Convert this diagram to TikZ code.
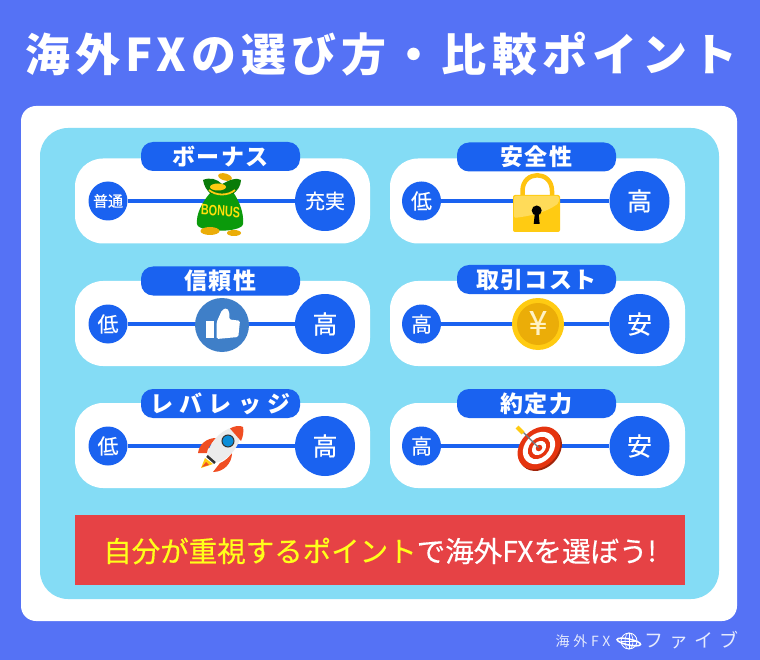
\documentclass[tikz,border=0pt]{standalone}
\usepackage{fontspec}
\setmainfont{Noto Sans CJK JP}
\newfontfamily\latinb{Liberation Sans}
\usetikzlibrary{calc}
\definecolor{pageblue}{HTML}{5572F5}
\definecolor{panelcyan}{HTML}{84DCF5}
\definecolor{darkblue}{HTML}{1A62F0}
\definecolor{bannerred}{HTML}{E64245}
\definecolor{banneryellow}{HTML}{FFFF1A}
\definecolor{goldlight}{HTML}{FFCB12}
\definecolor{golddark}{HTML}{EBAD08}
\definecolor{bagdark}{HTML}{0B9A0B}
\definecolor{thumbblue}{HTML}{3F7FC8}
\definecolor{rocketred}{HTML}{F04E23}
\definecolor{targetred}{HTML}{E5340F}
\newcommand{\SIZE}[1]{\fontsize{#1}{#1}\selectfont}
\newcommand{\MEDIUM}{\addfontfeature{FakeBold=0.35}}
\tikzset{
  card/.style={fill=white, rounded corners=28pt, minimum width=295pt, minimum height=85pt, inner sep=0pt},
  pill/.style={fill=darkblue, text=white, rounded corners=12pt, minimum width=159pt, minimum height=29pt, inner sep=0pt, font=\SIZE{23}\bfseries},
  lowdot/.style={circle, fill=darkblue, text=white, minimum size=39pt, inner sep=0pt, font=\SIZE{21}\MEDIUM},
  highdot/.style={circle, fill=darkblue, text=white, minimum size=60pt, inner sep=0pt, font=\SIZE{25}\MEDIUM},
  barline/.style={draw=darkblue, line width=4pt},
}
\begin{document}
\begin{tikzpicture}[x=1pt, y=-1pt]
  \useasboundingbox (0,0) rectangle (760,660);
  \fill[pageblue] (0,0) rectangle (760,660);
  \fill[white, rounded corners=15pt] (21,106) rectangle (737,621);
  \fill[panelcyan, rounded corners=28pt] (40,128) rectangle (719,599);

  \node[text=white, font=\SIZE{45}\bfseries] (title) at (381.5,54)
  {\addfontfeature{LetterSpace=11.5}海外FXの選び方・比較ポイント};

  %% left column
  \node[card] (cardBonus) at (222.5,201) {};
  \node[pill] (pillBonus) at (220.5,156.5) {\addfontfeature{LetterSpace=5}ボーナス};
  \node[lowdot, font=\SIZE{15}\MEDIUM] (lowBonus) at (108,201) {普通};
  \node[highdot, font=\SIZE{20}\MEDIUM] (highBonus) at (325,201) {充実};
  \draw[barline] (lowBonus) -- (highBonus);

  \node[card] (cardTrust) at (222.5,323.5) {};
  \node[pill] (pillTrust) at (220.5,281) {\addfontfeature{LetterSpace=5}信頼性};
  \node[lowdot] (lowTrust) at (108,324) {低};
  \node[highdot] (highTrust) at (325,324) {高};
  \draw[barline] (lowTrust) -- (highTrust);

  \node[card] (cardLeverage) at (222.5,445.5) {};
  \node[pill] (pillLeverage) at (220.5,403.5) {\addfontfeature{LetterSpace=27}レバレッジ};
  \node[lowdot] (lowLeverage) at (108,446) {低};
  \node[highdot] (highLeverage) at (325,446) {高};
  \draw[barline] (lowLeverage) -- (highLeverage);

  %% right column
  \node[card] (cardSafety) at (537.5,201) {};
  \node[pill] (pillSafety) at (536.5,157) {\addfontfeature{LetterSpace=5}安全性};
  \node[lowdot] (lowSafety) at (421.5,201) {低};
  \node[highdot] (highSafety) at (639.5,201) {高};
  \draw[barline] (lowSafety) -- (highSafety);

  \node[card] (cardCost) at (537.5,323.5) {};
  \node[pill] (pillCost) at (536.5,279.5) {\addfontfeature{LetterSpace=5}取引コスト};
  \node[lowdot] (lowCost) at (421.5,324) {高};
  \node[highdot] (highCost) at (639.5,324) {安};
  \draw[barline] (lowCost) -- (highCost);

  \node[card] (cardFill) at (537.5,445.5) {};
  \node[pill] (pillFill) at (536.5,403.5) {\addfontfeature{LetterSpace=5}約定力};
  \node[lowdot] (lowFill) at (421.5,446) {高};
  \node[highdot] (highFill) at (639.5,446) {安};
  \draw[barline] (lowFill) -- (highFill);

  %% money bag
  \fill[golddark, rotate around={-15:(225,177)}] (225,177) ellipse (7pt and 3.5pt);
  \fill[bagdark] (211,192) .. controls (202,202) and (196,214) .. (197,224)
  .. controls (198,233) and (242,233) .. (243,224)
  .. controls (244,214) and (240,202) .. (233,192) -- cycle;
  \fill[bagdark!80!black] (203,180) .. controls (210,177) and (217,179) .. (222,184)
  .. controls (230,180) and (236,177) .. (241,180)
  .. controls (241,186) and (237,191) .. (233,194) -- (211,194)
  .. controls (207,191) and (204,186) .. (203,180) -- cycle;
  \fill[goldlight] (218,187) ellipse (8pt and 3.5pt);
  \draw[goldlight, line width=1.8pt] (209,190) .. controls (216,196) and (228,196) .. (235,190);
  \node[text=goldlight!60!yellow, inner sep=0pt, font=\latinb\SIZE{15}\bfseries, xscale=.72, rotate=-3] (textBonus) at (220.5,211) {BONUS};
  \fill[golddark] (210,231) ellipse (9.5pt and 4pt);
  \fill[golddark] (234,233) ellipse (7pt and 3pt);

  %% padlock
  \draw[goldlight!90!orange, line width=4.5pt] (522.5,197) -- (522.5,191) .. controls (522.5,170) and (552,170) .. (552,191) -- (552,197);
  \fill[goldlight, rounded corners=2pt] (513,195) rectangle (560,232);
  \fill[goldlight!70!white, rounded corners=2pt] (514,196) -- (559,196) -- (559,203) .. controls (545,213) and (530,216) .. (514,218) -- cycle;
  \fill[black] (536.7,210.5) circle (5pt);
  \fill[black] (535,212) -- (538.4,212) -- (539.7,224) -- (533.7,224) -- cycle;

  %% thumb
  \fill[thumbblue] (222,325) circle (27pt);
  \fill[white] (205.7,320.7) rectangle (214.3,338.3);
  \fill[white, rounded corners=1.5pt] (216.7,322) -- (222,310) -- (226.7,308) -- (229.3,312) -- (229.3,319.5)
  -- (240,320.7) -- (238.3,337) -- (216.7,339) -- cycle;

  %% yen coin
  \fill[goldlight] (538,324) circle (26pt);
  \fill[golddark] (538,324) circle (21pt);
  \node[text=goldlight!25!white, inner sep=0pt, font=\SIZE{33}\MEDIUM] (textYen) at (538,323) {¥};

  %% rocket
  \fill[rocketred] (198,453) .. controls (199,445) and (206,438) .. (216,438) .. controls (211,444) and (207,449) .. (207,453) -- cycle;
  \fill[rocketred] (213,472) .. controls (224,472) and (232,463) .. (232,453) .. controls (228,458) and (225,461) .. (220,463) -- cycle;
  \fill[gray!15] (207,456) .. controls (209,442) and (224,425) .. (241,427) .. controls (243,444) and (228,462) .. (214,463) -- cycle;
  \fill[rocketred] (230,428.5) .. controls (234,426) and (240,425) .. (243,427) .. controls (244,431) and (243,437) .. (241,441) -- cycle;
  \fill[goldlight] (201,468) -- (205,458) -- (213,464) -- cycle;
  \fill[rocketred] (202,467) -- (206,462) -- (209,465) -- cycle;
  \draw[black!80, line width=2.5pt] (207,456) -- (215,463);
  \draw[black!80, fill=cyan!75!blue, line width=1pt] (228,441) circle (6pt);

  %% target
  \begin{scope}[shift={(540.5,449.5)}, rotate=45]
    \fill[targetred!70!black] (0,0) ellipse (24pt and 18.5pt);
  \end{scope}
  \begin{scope}[shift={(539,448)}, rotate=45]
    \fill[targetred] (0,0) ellipse (24pt and 18.5pt);
    \fill[white] (0,0) ellipse (18pt and 14pt);
    \fill[targetred] (0,0) ellipse (12.5pt and 9.5pt);
    \fill[white] (0,0) ellipse (8pt and 6pt);
    \fill[targetred] (0,0) ellipse (3.5pt and 3pt);
  \end{scope}
  \draw[black!60!cyan!50!gray, line width=1.3pt] (538.5,447.5) -- (522,431);
  \draw[goldlight, line width=4pt] (523,433) -- (517,427);

  %% banner
  \node[fill=bannerred, minimum width=610pt, minimum height=70pt, inner sep=0pt] (banner) at (380,550) {};
  \node[inner sep=0pt, text=white, font=\SIZE{28.5}\MEDIUM] (bannerText) at (380,551)
  {\textcolor{banneryellow}{自分が重視するポイント}で海外FXを選ぼう!};

  %% logo
  \node[text=white!85!pageblue, inner sep=0pt, font=\SIZE{14}] (logoLeft) at (583,641) {\addfontfeature{LetterSpace=27}海外FX};
  \draw[white, line width=.8pt] (629,641) circle (8pt);
  \draw[white, line width=.6pt] (621,641) -- (637,641) (629,633) -- (629,649);
  \draw[white, line width=.6pt] (629,641) ellipse (4pt and 8pt);
  \draw[white, line width=1.5pt, rotate around={-12:(629,641)}] (629,642) ellipse (12pt and 3pt);
  \node[text=white!85!pageblue, inner sep=0pt, font=\SIZE{19}] (logoRight) at (691.5,640) {\addfontfeature{LetterSpace=32}ファイブ};
\end{tikzpicture}
\end{document}
